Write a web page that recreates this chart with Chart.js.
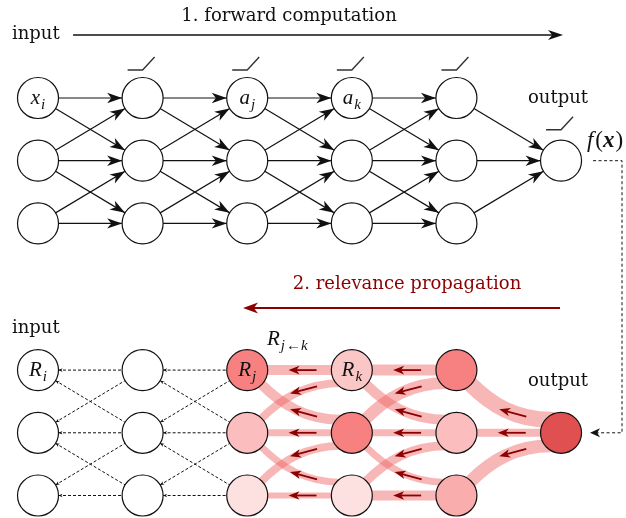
<!DOCTYPE html>
<html><head><meta charset="utf-8">
<script src="https://cdn.jsdelivr.net/npm/chart.js@4.4.0/dist/chart.umd.min.js"></script>
<style>html,body{margin:0;padding:0;background:#fff;overflow:hidden}</style>
</head><body>
<canvas id="c" width="626" height="518"></canvas>
<script>
// ================= DATA =================
const layerSizes = [3, 3, 3, 3, 3, 1];          // neurons per layer (last one = output)
const outputRow = 1;                             // row of the single output neuron
const panelOffset = 4.34;                        // row offset of the relevance (bottom) panel
// relevance of each neuron in the bottom panel (0 = none, 1 = output)
const relevanceL0 = [0, 0, 0];
const relevanceL1 = [0, 0, 0];
const relevanceL2 = [0.62, 0.32, 0.15];
const relevanceL3 = [0.28, 0.62, 0.15];
const relevanceL4 = [0.62, 0.32, 0.40];
const relevanceOut = [1.0];
// relevance flows [sourceRow (right layer), targetRow (left layer), amount]
const flowL3toL2 = [[0,0,10],[0,1,8],[1,0,10],[1,1,7],[1,2,8],[2,1,7],[2,2,6]];
const flowL4toL3 = [[0,0,11],[0,1,12],[1,0,10],[1,1,7],[1,2,9],[2,1,7],[2,2,10]];
const flowOutToL4 = [[1,0,16],[1,1,8],[1,2,13]];
// node labels
const topLabels = {"0-0": ["x","i"], "2-0": ["a","j"], "3-0": ["a","k"]};
const bottomLabels = {"0-0": ["R","i"], "2-0": ["R","j"], "3-0": ["R","k"]};
const titleForward = "1. forward computation";
const titleRelevance = "2. relevance propagation";

// ================= BUILD =================
const relevance = [relevanceL0, relevanceL1, relevanceL2, relevanceL3, relevanceL4, relevanceOut];
function rowOf(l, i) { return layerSizes[l] === 1 ? outputRow : i; }
function relColor(t) {
  const stops = [[0, [255,255,255]], [0.62, [247,128,128]], [1, [224,80,80]]];
  for (let s = 1; s < stops.length; s++) {
    if (t <= stops[s][0]) {
      const a = stops[s-1], b = stops[s], f = (t - a[0]) / (b[0] - a[0]);
      const c = a[1].map((v, k) => Math.round(v + (b[1][k] - v) * f));
      return `rgb(${c[0]},${c[1]},${c[2]})`;
    }
  }
  return "rgb(224,80,80)";
}
const topNodes = [], bottomNodes = [], bottomColors = [];
layerSizes.forEach((n, l) => {
  for (let i = 0; i < n; i++) {
    topNodes.push({x: l, y: rowOf(l, i), key: l + "-" + i, first: i === 0});
    bottomNodes.push({x: l, y: rowOf(l, i) + panelOffset, key: l + "-" + i});
    bottomColors.push(relColor(relevance[l][i]));
  }
});
// forward connections (adjacent rows, output fully connected)
const topEdges = [];
for (let l = 0; l < layerSizes.length - 1; l++) {
  for (let i = 0; i < layerSizes[l]; i++) for (let j = 0; j < layerSizes[l+1]; j++) {
    const last = layerSizes[l+1] === 1;
    if (last || Math.abs(i - j) <= 1) topEdges.push([l, rowOf(l, i), l+1, rowOf(l+1, j)]);
  }
}
// dashed relevance connections in the first two layer gaps
const dashedEdges = [];
for (let l = 0; l < 2; l++) for (let i = 0; i < 3; i++) for (let j = 0; j < 3; j++)
  if (Math.abs(i - j) <= 1) dashedEdges.push([l, i, l+1, j]);

const datasets = [];
datasets.push({label: "top", data: topNodes, pointRadius: 20.5, pointHoverRadius: 20.5,
  pointBackgroundColor: "#fff", pointBorderColor: "#111", pointBorderWidth: 1.2, showLine: false});
datasets.push({label: "bottom", data: bottomNodes, pointRadius: 20.5, pointHoverRadius: 20.5,
  pointBackgroundColor: bottomColors, pointBorderColor: "#111", pointBorderWidth: 1.2, showLine: false});
topEdges.forEach(e => datasets.push({data: [{x: e[0], y: e[1]}, {x: e[2], y: e[3]}], showLine: true,
  borderColor: "#111", borderWidth: 1.2, pointRadius: 0, fill: false}));
dashedEdges.forEach(e => datasets.push({data: [{x: e[0], y: e[1] + panelOffset}, {x: e[2], y: e[3] + panelOffset}],
  showLine: true, borderColor: "#111", borderWidth: 1, borderDash: [3, 2], pointRadius: 0, fill: false}));

// ================= LAYOUT (annotation positions, data units) =================
const layout = {
  forwardArrow: {x0: 0.335, x1: 5.019, y: -1.005},
  forwardText: {x: 2.40, y: -1.228},
  inputTop: {x: -0.249, y: -0.933},
  outputTop: {x: 4.971, y: 0.080},
  fx: {x: 5.248, y: 0.782},
  feedback: {x0: 5.306, xr: 5.583, x1: 5.277},
  relText: {x: 3.528, y: 3.047},
  relArrow: {x0: 4.990, x1: 1.960, y: 3.350},
  inputBottom: {x: -0.249, y: 3.748},
  rjk: {x: 2.189, y: 3.940},
  outputBottom: {x: 4.971, y: 4.594}
};
const R = 20.5;
const SERIF = '"DejaVu Serif", serif';
const MATH = '"Liberation Serif", "DejaVu Serif", serif';
const DARKRED = "#8b0000";

function stealth(ctx, tip, u, len, half, color) {
  const nx = -u[1], ny = u[0];
  const bx = tip[0] - u[0]*len, by = tip[1] - u[1]*len;
  ctx.beginPath();
  ctx.moveTo(tip[0], tip[1]);
  ctx.lineTo(bx + nx*half, by + ny*half);
  ctx.lineTo(tip[0] - u[0]*len*0.72, tip[1] - u[1]*len*0.72);
  ctx.lineTo(bx - nx*half, by - ny*half);
  ctx.closePath();
  ctx.fillStyle = color; ctx.fill();
}
function bez(S, C1, C2, T, t) {
  const m = 1 - t;
  return [m*m*m*S[0] + 3*m*m*t*C1[0] + 3*m*t*t*C2[0] + t*t*t*T[0],
          m*m*m*S[1] + 3*m*m*t*C1[1] + 3*m*t*t*C2[1] + t*t*t*T[1]];
}
function bezD(S, C1, C2, T, t) {
  const m = 1 - t;
  return [3*m*m*(C1[0]-S[0]) + 6*m*t*(C2[0]-C1[0]) + 3*t*t*(T[0]-C2[0]),
          3*m*m*(C1[1]-S[1]) + 6*m*t*(C2[1]-C1[1]) + 3*t*t*(T[1]-C2[1])];
}
function norm(v) { const d = Math.hypot(v[0], v[1]); return [v[0]/d, v[1]/d]; }
function mathLabel(ctx, base, sub, cx, cy, size) {
  const ss = Math.round(size*0.72);
  ctx.font = `italic ${size}px ${MATH}`;
  const wb = ctx.measureText(base).width;
  ctx.font = `italic ${ss}px ${MATH}`;
  const ws = ctx.measureText(sub).width;
  const x0 = cx - (wb + ws + 1) / 2;
  ctx.fillStyle = "#111"; ctx.textBaseline = "alphabetic"; ctx.textAlign = "left";
  ctx.font = `italic ${size}px ${MATH}`;
  ctx.fillText(base, x0, cy + size*0.3);
  ctx.font = `italic ${ss}px ${MATH}`;
  ctx.fillText(sub, x0 + wb + 1, cy + size*0.3 + size*0.22);
}

const diagram = {
  id: "diagram",
  beforeDatasetsDraw(chart) {
    const ctx = chart.ctx, sx = chart.scales.x, sy = chart.scales.y;
    const P = (x, y) => [sx.getPixelForValue(x), sy.getPixelForValue(y)];
    const groups = [[flowL3toL2, 3, 2], [flowL4toL3, 4, 3], [flowOutToL4, 5, 4]];
    ctx.save();
    ctx.lineJoin = "round"; ctx.lineCap = "butt";
    const arrows = [];
    groups.forEach(([flows, ls, lt]) => {
      flows.forEach(([rs, rt, w]) => {
        const Sc = P(ls, rowOf(ls, rs) + panelOffset), Tc = P(lt, rt + panelOffset);
        const sign = Math.sign(Tc[1] - Sc[1]);
        ctx.beginPath();
        if (sign === 0) {
          ctx.moveTo(Sc[0], Sc[1]); ctx.lineTo(Tc[0], Tc[1]);
          arrows.push([[(Sc[0] + Tc[0]) / 2 + 3, Sc[1]], [-1, 0]]);
        } else {
          const S = [Sc[0] - 10, Sc[1] + sign*13];
          const T = [Tc[0] + 14, Tc[1] - sign*14];
          const C1 = [S[0] - 0.45*(S[0] - T[0]), S[1]];
          const C2 = [T[0] + 20, T[1] - sign*20];
          ctx.moveTo(Sc[0], Sc[1]); ctx.lineTo(S[0], S[1]);
          ctx.bezierCurveTo(C1[0], C1[1], C2[0], C2[1], T[0], T[1]);
          ctx.lineTo(Tc[0], Tc[1]);
          const d = bezD(S, C1, C2, T, 0.4);
          arrows.push([bez(S, C1, C2, T, 0.4), norm([d[0], d[1]*0.7])]);
        }
        ctx.strokeStyle = "rgba(240,95,95,0.45)"; ctx.lineWidth = w; ctx.stroke();
      });
    });
    arrows.forEach(([p, u]) => {
      const L = 14;
      const tip = [p[0] + u[0]*L, p[1] + u[1]*L], tail = [p[0] - u[0]*L, p[1] - u[1]*L];
      ctx.beginPath(); ctx.moveTo(tail[0], tail[1]); ctx.lineTo(tip[0] - u[0]*5, tip[1] - u[1]*5);
      ctx.strokeStyle = DARKRED; ctx.lineWidth = 1.8; ctx.stroke();
      stealth(ctx, tip, u, 11, 4.3, DARKRED);
    });
    ctx.restore();
  },
  afterDatasetsDraw(chart) {
    const ctx = chart.ctx, sx = chart.scales.x, sy = chart.scales.y;
    const P = (x, y) => [sx.getPixelForValue(x), sy.getPixelForValue(y)];
    ctx.save();
    // forward arrowheads
    topEdges.forEach(e => {
      const S = P(e[0], e[1]), T = P(e[2], e[3]);
      const u = norm([T[0]-S[0], T[1]-S[1]]);
      stealth(ctx, [T[0] - u[0]*R, T[1] - u[1]*R], u, 15, 5.2, "#111");
    });
    // tiny heads on dashed edges (pointing left)
    dashedEdges.forEach(e => {
      const S = P(e[2], e[3] + panelOffset), T = P(e[0], e[1] + panelOffset);
      const u = norm([T[0]-S[0], T[1]-S[1]]);
      stealth(ctx, [T[0] - u[0]*R, T[1] - u[1]*R], u, 4, 1.8, "#111");
    });
    // activation glyphs (above the first neuron of each non-input layer)
    ctx.strokeStyle = "#333"; ctx.lineWidth = 1.4; ctx.lineCap = "butt";
    topNodes.forEach(n => {
      if (n.x === 0 || !n.first) return;
      const c = P(n.x, n.y);
      const top = n.x === 5 ? 31 : 28;
      ctx.beginPath();
      ctx.moveTo(c[0] - 15, c[1] - top); ctx.lineTo(c[0], c[1] - top);
      ctx.lineTo(c[0] + 12, c[1] - top - 13); ctx.stroke();
    });
    // node labels
    topNodes.forEach(n => { const lb = topLabels[n.key]; if (lb) { const c = P(n.x, n.y); mathLabel(ctx, lb[0], lb[1], c[0], c[1], 21); } });
    bottomNodes.forEach(n => { const lb = bottomLabels[n.key]; if (lb) { const c = P(n.x, n.y); mathLabel(ctx, lb[0], lb[1], c[0], c[1], 21); } });
    // texts
    ctx.fillStyle = "#111"; ctx.textBaseline = "alphabetic";
    ctx.font = `18px ${SERIF}`;
    let p = P(layout.forwardText.x, layout.forwardText.y); ctx.textAlign = "center"; ctx.fillText(titleForward, p[0], p[1]);
    p = P(layout.inputTop.x, layout.inputTop.y); ctx.textAlign = "left"; ctx.fillText("input", p[0], p[1]);
    p = P(layout.outputTop.x, layout.outputTop.y); ctx.textAlign = "center"; ctx.fillText("output", p[0], p[1]);
    p = P(layout.inputBottom.x, layout.inputBottom.y); ctx.textAlign = "left"; ctx.fillText("input", p[0], p[1]);
    p = P(layout.outputBottom.x, layout.outputBottom.y); ctx.textAlign = "center"; ctx.fillText("output", p[0], p[1]);
    ctx.fillStyle = DARKRED;
    p = P(layout.relText.x, layout.relText.y); ctx.textAlign = "center"; ctx.fillText(titleRelevance, p[0], p[1]);
    // forward arrow
    let a = P(layout.forwardArrow.x0, layout.forwardArrow.y), b = P(layout.forwardArrow.x1, layout.forwardArrow.y);
    ctx.beginPath(); ctx.moveTo(a[0], a[1]); ctx.lineTo(b[0] - 8, b[1]);
    ctx.strokeStyle = "#111"; ctx.lineWidth = 1.6; ctx.stroke();
    stealth(ctx, b, [1, 0], 15, 5, "#111");
    // relevance arrow
    a = P(layout.relArrow.x0, layout.relArrow.y); b = P(layout.relArrow.x1, layout.relArrow.y);
    ctx.beginPath(); ctx.moveTo(a[0], a[1]); ctx.lineTo(b[0] + 8, b[1]);
    ctx.strokeStyle = DARKRED; ctx.lineWidth = 2; ctx.stroke();
    stealth(ctx, b, [-1, 0], 15, 5.5, DARKRED);
    // R_{j<-k}
    p = P(layout.rjk.x, layout.rjk.y);
    ctx.fillStyle = "#111"; ctx.textAlign = "left";
    ctx.font = `italic 21px ${MATH}`; ctx.fillText("R", p[0], p[1]);
    let x = p[0] + ctx.measureText("R").width + 1;
    ctx.font = `italic 15px ${MATH}`; ctx.fillText("j", x, p[1] + 5); x += ctx.measureText("j").width + 1;
    ctx.font = `15px ${MATH}`; ctx.fillText("\u2190", x, p[1] + 5); x += ctx.measureText("\u2190").width;
    ctx.font = `italic 15px ${MATH}`; ctx.fillText("k", x, p[1] + 5);
    // f(x)
    p = P(layout.fx.x, layout.fx.y); x = p[0];
    ctx.font = `italic 23px ${MATH}`; ctx.fillText("f", x, p[1]); x += ctx.measureText("f").width + 2;
    ctx.font = `23px ${MATH}`; ctx.fillText("(", x, p[1]); x += ctx.measureText("(").width;
    ctx.font = `italic bold 23px ${MATH}`; ctx.fillText("x", x, p[1]); x += ctx.measureText("x").width + 1;
    ctx.font = `23px ${MATH}`; ctx.fillText(")", x, p[1]);
    // feedback dashed line
    const f0 = P(layout.feedback.x0, outputRow), fr = P(layout.feedback.xr, outputRow),
          fb = P(layout.feedback.xr, outputRow + panelOffset), f1 = P(layout.feedback.x1, outputRow + panelOffset);
    ctx.beginPath(); ctx.setLineDash([3, 2.5]);
    ctx.moveTo(f0[0], f0[1]); ctx.lineTo(fr[0], fr[1]); ctx.lineTo(fb[0], fb[1]); ctx.lineTo(f1[0] + 6, f1[1]);
    ctx.strokeStyle = "#111"; ctx.lineWidth = 1; ctx.stroke(); ctx.setLineDash([]);
    stealth(ctx, f1, [-1, 0], 10, 4.5, "#111");
    ctx.restore();
  }
};

new Chart(document.getElementById("c"), {
  type: "scatter",
  data: {datasets},
  options: {
    responsive: false, animation: false, devicePixelRatio: 1,
    layout: {padding: 0, autoPadding: false},
    plugins: {legend: {display: false}, tooltip: {enabled: false}},
    events: [],
    scales: {
      x: {type: "linear", display: false, min: -0.3633, max: 5.621},
      y: {type: "linear", display: false, min: -1.563, max: 6.699, reverse: true}
    },
    elements: {line: {tension: 0}}
  },
  plugins: [diagram]
});
</script>
</body></html>
